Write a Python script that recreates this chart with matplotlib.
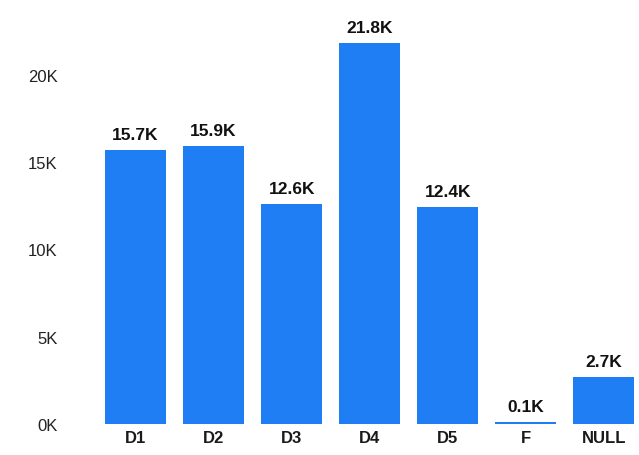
import matplotlib
matplotlib.use("Agg")
import matplotlib.pyplot as plt
from matplotlib.ticker import FuncFormatter

categories = ["D1", "D2", "D3", "D4", "D5", "F", "NULL"]
values = [15700, 15900, 12600, 21800, 12400, 100, 2700]
yticks = [0, 5000, 10000, 15000, 20000]

plt.rcParams['font.family'] = ['Liberation Sans', 'DejaVu Sans']

W, H = 639, 456
fig = plt.figure(figsize=(W/100, H/100), dpi=100)
left = 96.5 / W
bottom = (H - 425) / H
ax = fig.add_axes([left, bottom, 1 - left, (425 - 30) / H])

x = list(range(len(categories)))
bars = ax.bar(x, values, width=0.78, color="#1F7EF4")
ax.set_xlim(-0.5, 6.45)
ymax = 5000 * (425 - 30) / 87.3
ax.set_ylim(0, ymax)
ax.set_yticks(yticks)
ax.yaxis.set_major_formatter(FuncFormatter(lambda v, p: f"{v/1000:.0f}K"))
ax.set_xticks(x)
ax.set_xticklabels(categories, fontweight="bold", fontsize=12, color="#1a1a1a")
ax.tick_params(axis="y", length=0, pad=28, labelsize=12, labelcolor="#222222")
ax.tick_params(axis="x", length=0, pad=4)
for s in ax.spines.values():
    s.set_visible(False)

for xi, v in zip(x, values):
    ax.annotate(f"{v/1000:.1f}K", (xi, v), xytext=(0, 6), textcoords="offset points",
                ha="center", va="bottom", fontsize=12.5, fontweight="bold",
                color="#111111", clip_on=False)

fig.savefig("out.png", dpi=100)
